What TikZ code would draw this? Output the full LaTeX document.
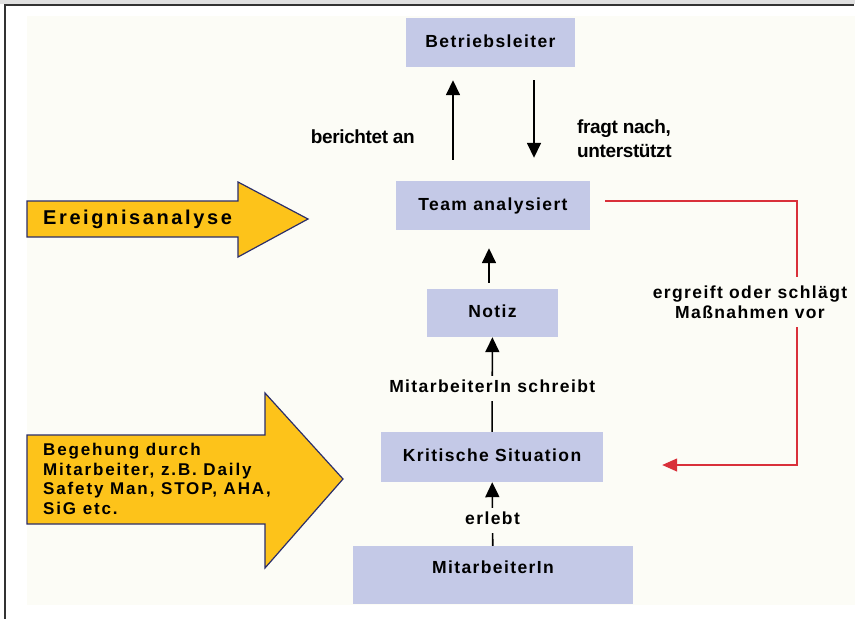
\documentclass[tikz,border=0pt]{standalone}
\usepackage{fontspec}
\setmainfont{Liberation Sans}
\newfontfamily\widefont{Liberation Sans}[LetterSpace=8]
\newfontfamily\walkfont{Liberation Sans}[LetterSpace=11]
\newfontfamily\widerfont{Liberation Sans}[LetterSpace=13]
\newfontfamily\tightfont{Liberation Sans}[LetterSpace=-2]
\usetikzlibrary{arrows.meta,positioning,calc}
\definecolor{lavender}{HTML}{C4C9E7}
\definecolor{gold}{HTML}{FDC31A}
\definecolor{navy}{HTML}{2B2E6A}
\definecolor{signal}{HTML}{D9303A}
\definecolor{cream}{HTML}{FCFCF6}
\definecolor{framegray}{HTML}{333333}

\begin{document}
\begin{tikzpicture}[
  x=1pt, y=-1pt,
  every node/.style={font=\widefont\bfseries\fontsize{17.5}{20}\selectfont},
  box/.style={rectangle, fill=lavender, text height=12pt, text depth=3pt},
  lbl/.style={fill=cream, inner xsep=3pt, inner ysep=5pt, text height=12pt, text depth=3pt},
  arr/.style={line width=1.6pt, -{Triangle[width=14pt,length=15pt]}},
  redline/.style={signal, line width=1.3pt, -{Triangle[width=13pt,length=15pt]}},
  bigarrow/.style={fill=gold, draw=navy, line width=1.2pt, line join=miter},
  plain/.style={font=\tightfont\bfseries\fontsize{19}{24}\selectfont, inner sep=0pt},
]
\useasboundingbox (0,0) rectangle (855,619);

% Page and frame
\fill[white] (0,0) rectangle (855,619);
\fill[black!12] (0,0) rectangle (855,4);
\fill[cream] (27,16) rectangle (855,605);
\draw[framegray, line width=1.5pt] (5,619) -- (5,5) -- (854,5);

% Yellow entry arrows
\draw[bigarrow] (27,201) -- (238,201) -- (238,182) -- (308,219) -- (238,257) -- (238,237) -- (27,237) -- cycle;
\node[font=\widerfont\bfseries\fontsize{20}{22}\selectfont, anchor=west, inner sep=0pt] (event) at (43,219) {Ereignisanalyse};

\draw[bigarrow] (27,435) -- (265,435) -- (265,393) -- (343,479) -- (265,568) -- (265,524) -- (27,524) -- cycle;
\node[font=\walkfont\bfseries\fontsize{17}{19.5}\selectfont, anchor=north west, align=left, inner sep=0pt] (walk) at (43,443) {Begehung durch\\Mitarbeiter, z.B. Daily\\Safety Man, STOP, AHA,\\SiG etc.};

% Boxes of the chain
\node[box, minimum width=169pt, minimum height=49pt] (boss) at (490.5,42.5) {Betriebsleiter};
\node[box, minimum width=194pt, minimum height=49pt] (team) at (493,205.5) {Team analysiert};
\node[box, minimum width=131pt, minimum height=48pt] (notiz) at (492.5,313) {Notiz};
\node[box, minimum width=222pt, minimum height=50pt] (krit) at (492,457) {Kritische Situation};
\node[box, minimum width=280pt, minimum height=58pt, text depth=15pt] (mit) at (493,575) {MitarbeiterIn};

% Team <-> Betriebsleiter
\draw[arr, shorten <=21pt, shorten >=13pt] ([xshift=-40pt]team.north) -- ([xshift=-40pt]team.north |- boss.south);
\draw[arr, shorten <=13pt, shorten >=23pt] ([xshift=41pt]team.north |- boss.south) -- ([xshift=41pt]team.north);
\node[plain, anchor=east] (reports) at (415,137) {berichtet an};
\node[plain, anchor=west, align=left] (asks) at (577,139) {fragt nach,\\unterstützt};

% Upwards chain
\draw[arr, shorten <=6pt, shorten >=18pt] ([xshift=-3.5pt]notiz.north) -- ([xshift=-3.5pt]notiz.north |- team.south);
\draw[arr] (krit) -- node[lbl, pos=0.46] (writes) {MitarbeiterIn schreibt} (notiz);
\draw[arr] (mit) -- node[lbl, pos=0.4] (lives) {erlebt} (krit);

% Measures loop back
\coordinate (loop) at (797,333);
\draw[redline] ([xshift=15pt,yshift=4.5pt]team.east) -| (loop) |- ([xshift=59pt,yshift=-8pt]krit.east);
\node[fill=cream, align=center, inner xsep=2pt, inner ysep=9pt, font=\widefont\bfseries\fontsize{17.5}{20}\selectfont] (measures) at (750,302) {ergreift oder schlägt\\Maßnahmen vor};

\end{tikzpicture}
\end{document}
